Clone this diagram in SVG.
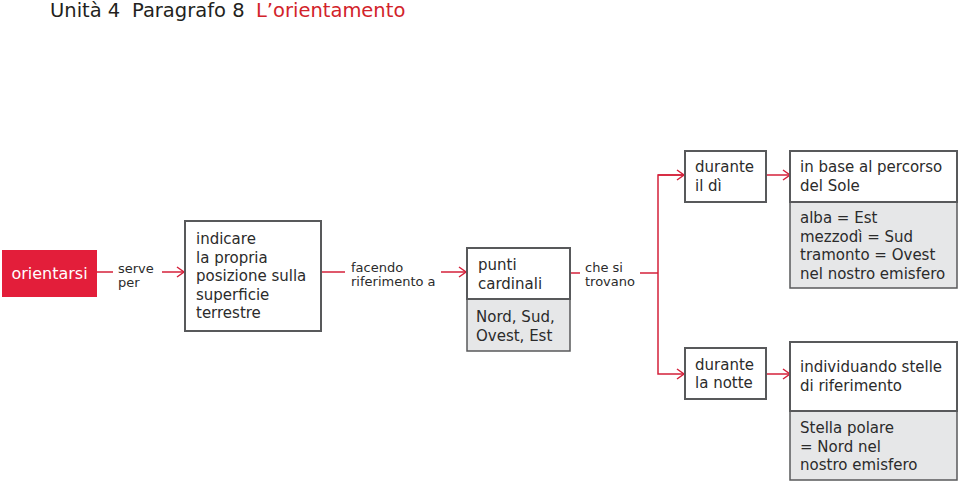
<svg xmlns="http://www.w3.org/2000/svg" width="959" height="482" viewBox="0 0 959 482">
<defs>
<style>
text{font-family:"DejaVu Sans","Noto Sans",sans-serif;fill:#2b2b2b}
.t{font-size:15px}
.s{font-size:13px}
.h{font-size:19.5px;fill:#231f20}
.box{fill:#fff;stroke:#58595b;stroke-width:2}
.gray{fill:#e6e7e8;stroke:#58595b;stroke-width:1.5}
.c{fill:none;stroke:#d4203a;stroke-width:1.5}
</style>
<marker id="ah" markerWidth="10" markerHeight="12" refX="8" refY="6" orient="auto" markerUnits="userSpaceOnUse">
<path d="M1,1 L8,6 L1,11" fill="none" stroke="#d4203a" stroke-width="1.5"/>
</marker>
</defs>
<rect width="959" height="482" fill="#fff"/>
<g id="title">
<text class="h" x="50" y="17">Unità 4</text>
<text class="h" x="132" y="17">Paragrafo 8</text>
<text class="h" x="256" y="17" style="fill:#d2232a">L’orientamento</text>
</g>
<g id="connectors">
<line class="c" x1="97" y1="272" x2="113" y2="272"/>
<line class="c" x1="162" y1="272" x2="184" y2="272" marker-end="url(#ah)"/>
<line class="c" x1="321" y1="272" x2="345" y2="272"/>
<line class="c" x1="441" y1="272" x2="466" y2="272" marker-end="url(#ah)"/>
<line class="c" x1="570" y1="273" x2="580" y2="273"/>
<line class="c" x1="640" y1="273" x2="658" y2="273"/>
<polyline class="c" points="684,175 658,175 658,374 684,374" marker-end="url(#ah)"/>
<line class="c" x1="658" y1="175" x2="684" y2="175" marker-end="url(#ah)"/>
<line class="c" x1="766" y1="175" x2="790" y2="175" marker-end="url(#ah)"/>
<line class="c" x1="766" y1="374" x2="790" y2="374" marker-end="url(#ah)"/>
</g>
<g id="labels">
<text class="s" x="118" y="273">serve</text>
<text class="s" x="118" y="287">per</text>
<text class="s" x="351" y="272">facendo</text>
<text class="s" x="351" y="286">riferimento a</text>
<text class="s" x="585" y="272">che si</text>
<text class="s" x="585" y="286">trovano</text>
</g>
<g id="orientarsi">
<rect x="2" y="250" width="95" height="47" fill="#e31e3a"/>
<text x="49.5" y="279" text-anchor="middle" style="font-size:16px;fill:#fff">orientarsi</text>
</g>
<g id="indicare">
<rect class="box" x="185" y="221" width="136" height="110"/>
<text class="t" x="196" y="244">indicare</text>
<text class="t" x="196" y="263">la propria</text>
<text class="t" x="196" y="281">posizione sulla</text>
<text class="t" x="196" y="300">superficie</text>
<text class="t" x="196" y="318">terrestre</text>
</g>
<g id="punti">
<rect class="gray" x="467" y="299" width="103" height="52"/>
<rect class="box" x="467" y="248" width="103" height="51"/>
<text class="t" x="478" y="270">punti</text>
<text class="t" x="478" y="289">cardinali</text>
<text class="t" x="476" y="322">Nord, Sud,</text>
<text class="t" x="476" y="341">Ovest, Est</text>
</g>
<g id="giorno">
<rect class="box" x="685" y="151" width="81" height="51"/>
<text class="t" x="695" y="172">durante</text>
<text class="t" x="695" y="191">il dì</text>
</g>
<g id="sole">
<rect class="gray" x="790" y="202" width="167" height="86"/>
<rect class="box" x="790" y="151" width="167" height="51"/>
<text class="t" x="800" y="172">in base al percorso</text>
<text class="t" x="800" y="191">del Sole</text>
<text class="t" x="800" y="223">alba = Est</text>
<text class="t" x="800" y="242">mezzodì = Sud</text>
<text class="t" x="800" y="260">tramonto = Ovest</text>
<text class="t" x="800" y="279">nel nostro emisfero</text>
</g>
<g id="notte">
<rect class="box" x="685" y="348" width="81" height="51"/>
<text class="t" x="695" y="370">durante</text>
<text class="t" x="695" y="388">la notte</text>
</g>
<g id="stelle">
<rect class="gray" x="790" y="411" width="167" height="69"/>
<rect class="box" x="790" y="342" width="167" height="69"/>
<text class="t" x="800" y="372">individuando stelle</text>
<text class="t" x="800" y="391">di riferimento</text>
<text class="t" x="800" y="433">Stella polare</text>
<text class="t" x="800" y="452">= Nord nel</text>
<text class="t" x="800" y="470">nostro emisfero</text>
</g>
</svg>
